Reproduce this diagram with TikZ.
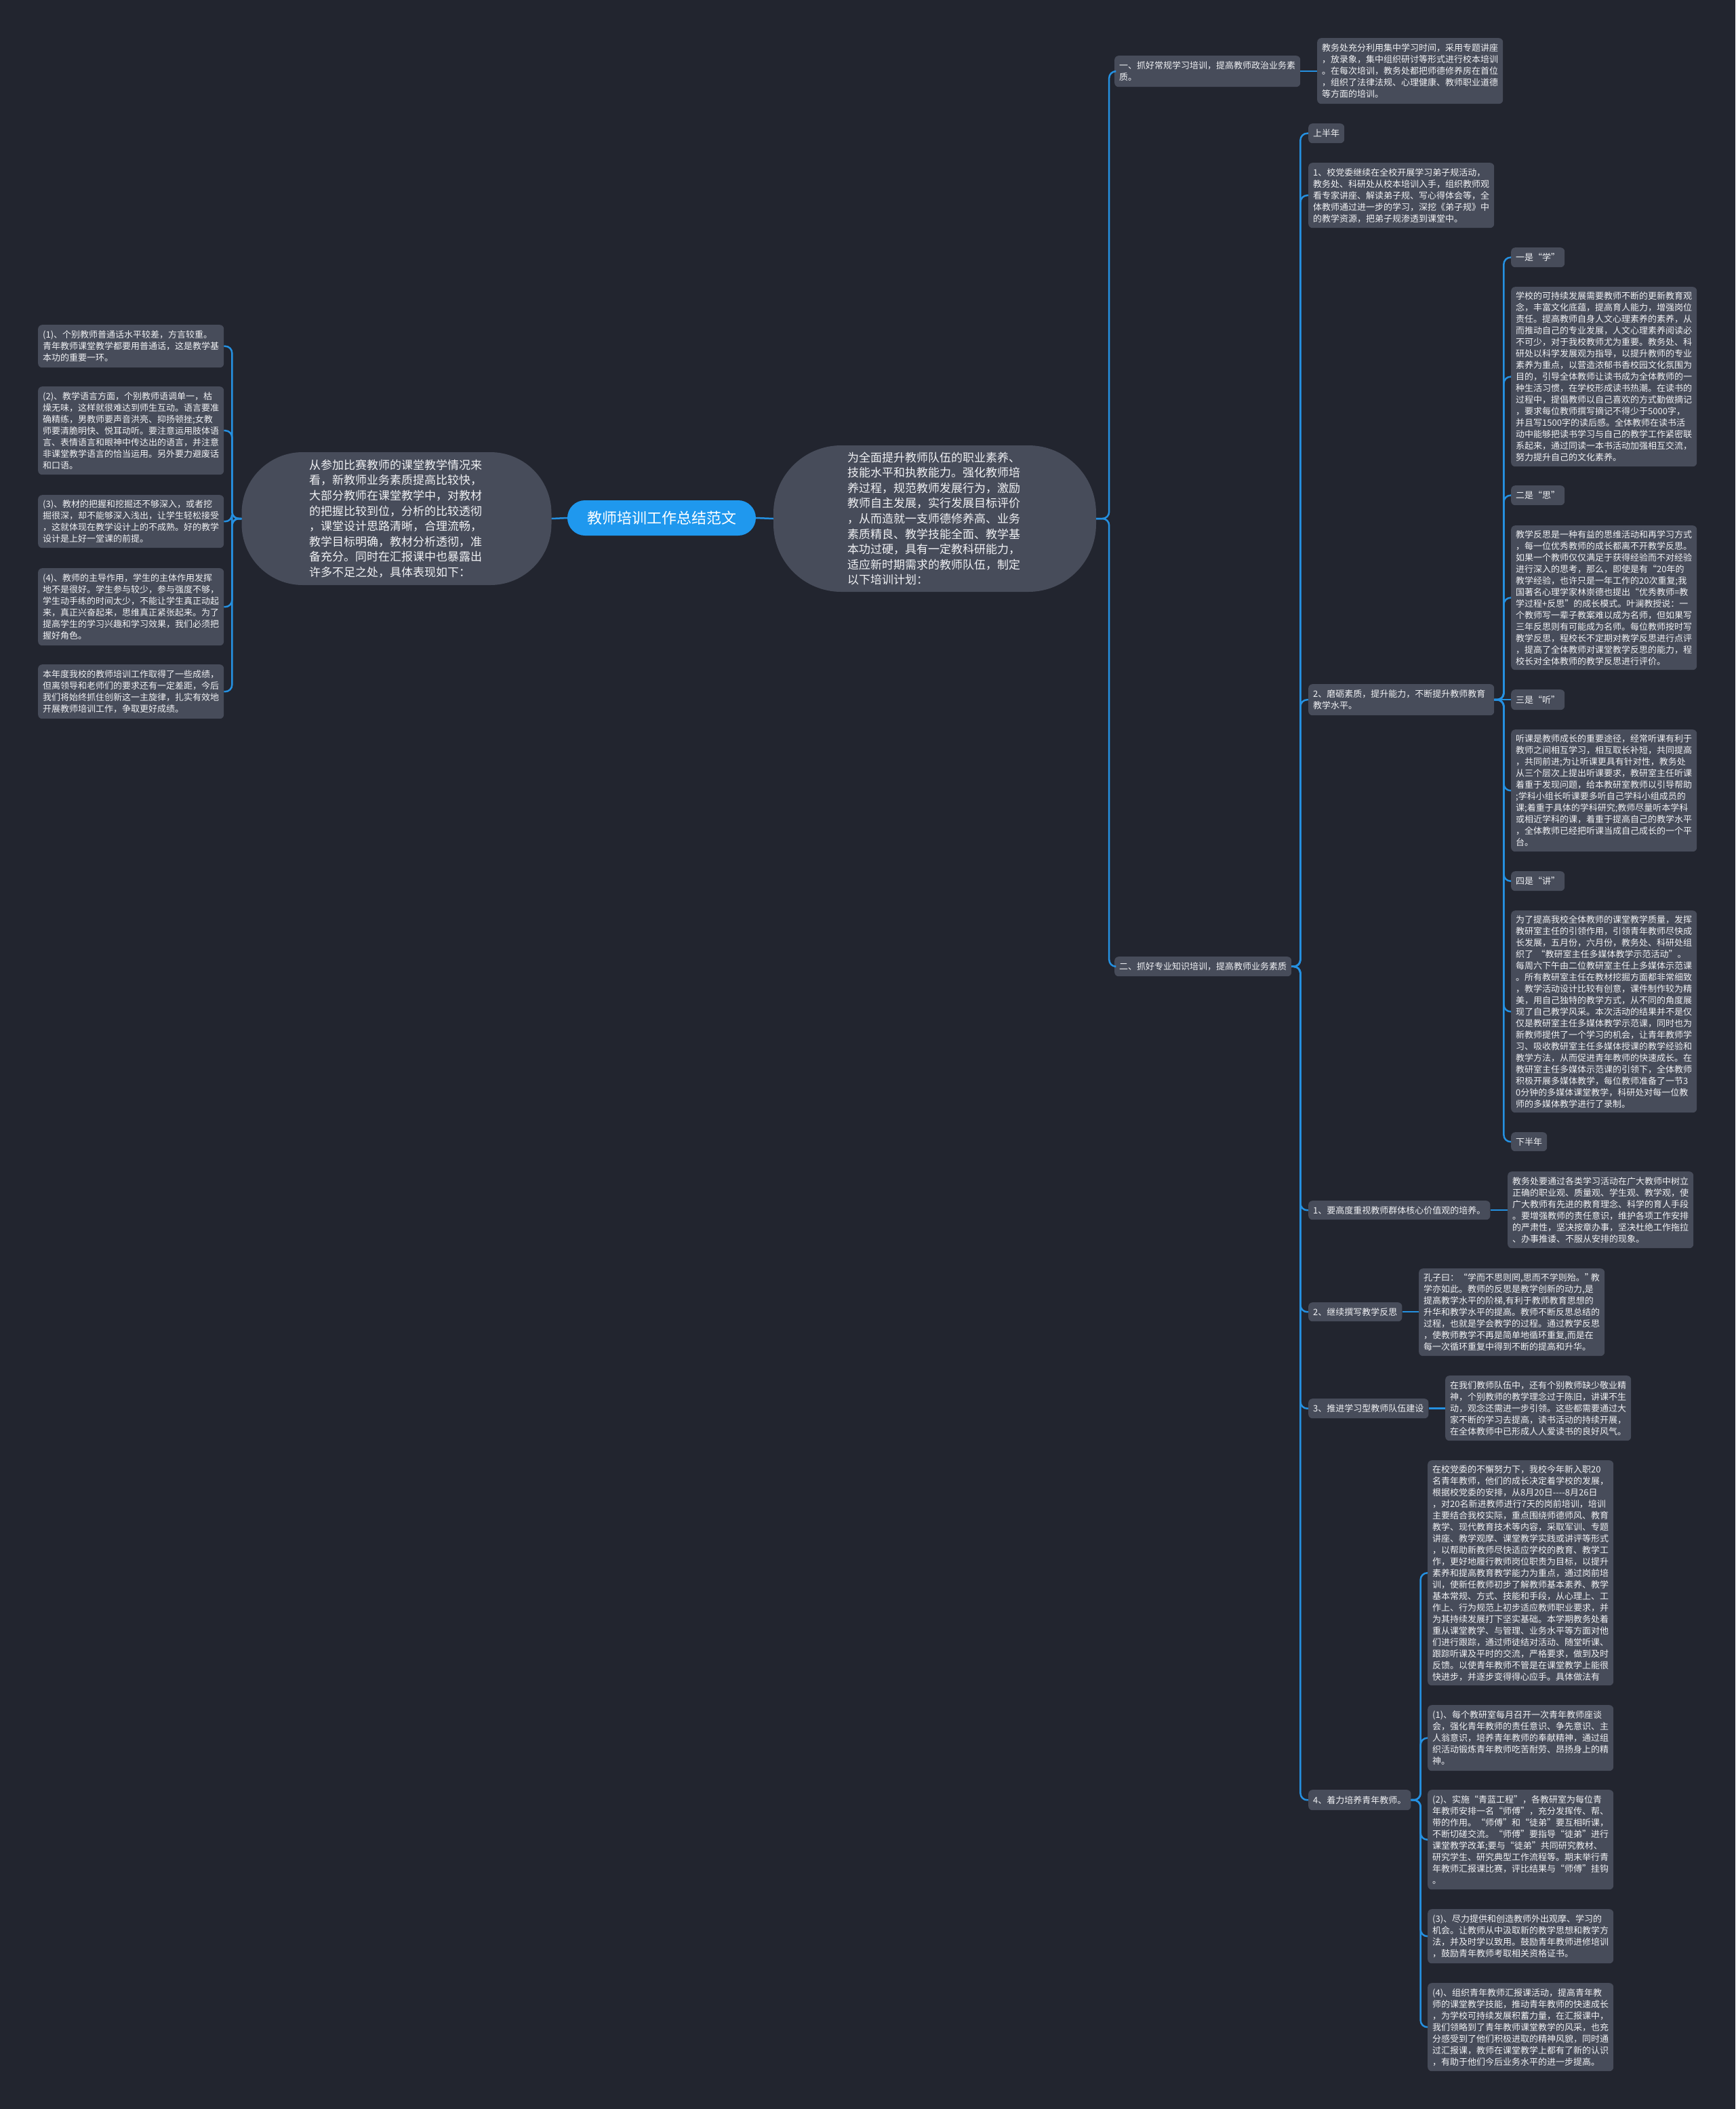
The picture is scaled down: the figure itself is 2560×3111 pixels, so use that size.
\documentclass[tikz,border=0pt]{standalone}
\usepackage{fontspec}
\setmainfont{Noto Sans CJK SC}
\definecolor{bgc}{HTML}{22252F}
\definecolor{nodebg}{HTML}{474C5A}
\definecolor{linec}{HTML}{2590E0}
\definecolor{rootc}{HTML}{1F98EE}
\definecolor{txt}{HTML}{F0F1F4}
\tikzset{
  leaf/.style={fill=nodebg, rounded corners=6pt, text=txt, font=\fontsize{13}{17}\selectfont, anchor=north west, inner xsep=7pt, inner ysep=3pt, text width=260pt, align=left},
  lbl/.style={fill=nodebg, rounded corners=6pt, text=txt, font=\fontsize{13}{17}\selectfont, anchor=north west, inner xsep=7pt, inner ysep=3pt, align=left},
  bigel/.style={fill=nodebg, text=txt, font=\fontsize{17}{22.6}\selectfont, text width=258pt, align=left},
  rootn/.style={fill=rootc, text=white, font=\fontsize{22}{26}\selectfont, rounded corners=26pt, minimum width=278pt, minimum height=52pt},
  conn/.style={draw=linec, line width=2.5pt, rounded corners=10pt},
}
\begin{document}
\begin{tikzpicture}[x=1pt,y=-1pt]
\useasboundingbox (0,0) rectangle (2560,3111);
\fill[bgc] (0,0) rectangle (2560,3111);

% centre
\node[rootn] (root) at (976,764) {教师培训工作总结范文};
\node[bigel, minimum width=457pt, minimum height=196pt, rounded corners=90pt] (le) at (585,765) {从参加比赛教师的课堂教学情况来\\看，新教师业务素质提高比较快，\\大部分教师在课堂教学中，对教材\\的把握比较到位，分析的比较透彻\\，课堂设计思路清晰，合理流畅，\\教学目标明确，教材分析透彻，准\\备充分。同时在汇报课中也暴露出\\许多不足之处，具体表现如下：};
\node[bigel, minimum width=476pt, minimum height=216pt, rounded corners=100pt] (re) at (1379,765) {为全面提升教师队伍的职业素养、\\技能水平和执教能力。强化教师培\\养过程，规范教师发展行为，激励\\教师自主发展，实行发展目标评价\\，从而造就一支师德修养高、业务\\素质精良、教学技能全面、教学基\\本功过硬，具有一定教科研能力，\\适应新时期需求的教师队伍，制定\\以下培训计划：};

% left leaves
\node[leaf, minimum height=63pt] (L1) at (56,479) {(1)、个别教师普通话水平较差，方言较重。\\青年教师课堂教学都要用普通话，这是教学基\\本功的重要一环。};
\node[leaf, minimum height=130pt] (L2) at (56,570) {(2)、教学语言方面，个别教师语调单一，枯\\燥无味，这样就很难达到师生互动。语言要准\\确精练，男教师要声音洪亮、抑扬顿挫;女教\\师要清脆明快、悦耳动听。要注意运用肢体语\\言、表情语言和眼神中传达出的语言，并注意\\非课堂教学语言的恰当运用。另外要力避废话\\和口语。};
\node[leaf, minimum height=78pt] (L3) at (56,730) {(3)、教材的把握和挖掘还不够深入，或者挖\\掘很深，却不能够深入浅出，让学生轻松接受\\，这就体现在教学设计上的不成熟。好的教学\\设计是上好一堂课的前提。};
\node[leaf, minimum height=114pt] (L4) at (56,838) {(4)、教师的主导作用，学生的主体作用发挥\\地不是很好。学生参与较少，参与强度不够，\\学生动手练的时间太少，不能让学生真正动起\\来，真正兴奋起来，思维真正紧张起来。为了\\提高学生的学习兴趣和学习效果，我们必须把\\握好角色。};
\node[leaf, minimum height=80pt] (L5) at (56,980) {本年度我校的教师培训工作取得了一些成绩，\\但离领导和老师们的要求还有一定差距，今后\\我们将始终抓住创新这一主旋律，扎实有效地\\开展教师培训工作，争取更好成绩。};

% right: branch one
\node[leaf, minimum height=46pt] (A1) at (1644,82) {一、抓好常规学习培训，提高教师政治业务素\\质。};
\node[leaf, minimum height=97pt] (A1t) at (1943,56) {教务处充分利用集中学习时间，采用专题讲座\\，放录象，集中组织研讨等形式进行校本培训\\。在每次培训，教务处都把师德修养房在首位\\，组织了法律法规、心理健康、教师职业道德\\等方面的培训。};

% branch two
\node[lbl, minimum height=29pt] (B) at (1644,1411) {二、抓好专业知识培训，提高教师业务素质};
\node[lbl, minimum height=29pt] (B0) at (1930,182) {上半年};
\node[leaf, minimum height=96pt] (B1) at (1930,240) {1、校党委继续在全校开展学习弟子规活动，\\教务处、科研处从校本培训入手，组织教师观\\看专家讲座、解读弟子规、写心得体会等，全\\体教师通过进一步的学习，深挖《弟子规》中\\的教学资源，把弟子规渗透到课堂中。};
\node[leaf, minimum height=46pt] (B2) at (1930,1009) {2、磨砺素质，提升能力，不断提升教师教育\\教学水平。};

\node[lbl, minimum height=29pt] (C1) at (2229,365) {一是“学”};
\node[leaf, minimum height=265pt] (C1t) at (2229,423) {学校的可持续发展需要教师不断的更新教育观\\念，丰富文化底蕴，提高育人能力，增强岗位\\责任。提高教师自身人文心理素养的素养，从\\而推动自己的专业发展，人文心理素养阅读必\\不可少，对于我校教师尤为重要。教务处、科\\研处以科学发展观为指导，以提升教师的专业\\素养为重点，以营造浓郁书香校园文化氛围为\\目的，引导全体教师让读书成为全体教师的一\\种生活习惯，在学校形成读书热潮。在读书的\\过程中，提倡教师以自己喜欢的方式勤做摘记\\，要求每位教师撰写摘记不得少于5000字，\\并且写1500字的读后感。全体教师在读书活\\动中能够把读书学习与自己的教学工作紧密联\\系起来，通过同读一本书活动加强相互交流，\\努力提升自己的文化素养。};
\node[lbl, minimum height=29pt] (C2) at (2229,716) {二是“思”};
\node[leaf, minimum height=213pt] (C2t) at (2229,775) {教学反思是一种有益的思维活动和再学习方式\\，每一位优秀教师的成长都离不开教学反思。\\如果一个教师仅仅满足于获得经验而不对经验\\进行深入的思考，那么，即使是有“20年的\\教学经验，也许只是一年工作的20次重复;我\\国著名心理学家林崇德也提出“优秀教师=教\\学过程+反思”的成长模式。叶澜教授说：一\\个教师写一辈子教案难以成为名师，但如果写\\三年反思则有可能成为名师。每位教师按时写\\教学反思，程校长不定期对教学反思进行点评\\，提高了全体教师对课堂教学反思的能力，程\\校长对全体教师的教学反思进行评价。};
\node[lbl, minimum height=30pt] (C3) at (2229,1017) {三是“听”};
\node[leaf, minimum height=180pt] (C3t) at (2229,1076) {听课是教师成长的重要途径，经常听课有利于\\教师之间相互学习，相互取长补短，共同提高\\，共同前进;为让听课更具有针对性，教务处\\从三个层次上提出听课要求，教研室主任听课\\着重于发现问题，给本教研室教师以引导帮助\\;学科小组长听课要多听自己学科小组成员的\\课;着重于具体的学科研究;教师尽量听本学科\\或相近学科的课，着重于提高自己的教学水平\\，全体教师已经把听课当成自己成长的一个平\\台。};
\node[lbl, minimum height=29pt] (C4) at (2229,1285) {四是“讲”};
\node[leaf, minimum height=298pt] (C4t) at (2229,1343) {为了提高我校全体教师的课堂教学质量，发挥\\教研室主任的引领作用，引领青年教师尽快成\\长发展，五月份，六月份，教务处、科研处组\\织了~“教研室主任多媒体教学示范活动”。\\每周六下午由二位教研室主任上多媒体示范课\\。所有教研室主任在教材挖掘方面都非常细致\\，教学活动设计比较有创意，课件制作较为精\\美，用自己独特的教学方式，从不同的角度展\\现了自己教学风采。本次活动的结果并不是仅\\仅是教研室主任多媒体教学示范课，同时也为\\新教师提供了一个学习的机会，让青年教师学\\习、吸收教研室主任多媒体授课的教学经验和\\教学方法，从而促进青年教师的快速成长。在\\教研室主任多媒体示范课的引领下，全体教师\\积极开展多媒体教学，每位教师准备了一节3\\0分钟的多媒体课堂教学，科研处对每一位教\\师的多媒体教学进行了录制。};
\node[lbl, minimum height=28pt] (C5) at (2229,1670) {下半年};

\node[lbl, minimum height=28pt] (B3) at (1930,1771) {1、要高度重视教师群体核心价值观的培养。};
\node[leaf, minimum height=113pt] (B3t) at (2224,1728) {教务处要通过各类学习活动在广大教师中树立\\正确的职业观、质量观、学生观、教学观，使\\广大教师有先进的教育理念、科学的育人手段\\。要增强教师的责任意识，维护各项工作安排\\的严肃性，坚决按章办事，坚决杜绝工作拖拉\\、办事推诿、不服从安排的现象。};
\node[lbl, minimum height=28pt] (B4) at (1930,1921) {2、继续撰写教学反思};
\node[leaf, minimum height=129pt] (B4t) at (2093,1871) {孔子曰：“学而不思则罔,思而不学则殆。”\kern-4pt\hbox{}教\\学亦如此。教师的反思是教学创新的动力,是\\提高教学水平的阶梯,有利于教师教育思想的\\升华和教学水平的提高。教师不断反思总结的\\过程，也就是学会教学的过程。通过教学反思\\，使教师教学不再是简单地循环重复,而是在\\每一次循环重复中得到不断的提高和升华。};
\node[lbl, minimum height=29pt] (B5) at (1930,2063) {3、推进学习型教师队伍建设};
\node[leaf, minimum height=96pt] (B5t) at (2132,2029) {在我们教师队伍中，还有个别教师缺少敬业精\\神，个别教师的教学理念过于陈旧，讲课不生\\动，观念还需进一步引领。这些都需要通过大\\家不断的学习去提高，读书活动的持续开展，\\在全体教师中已形成人人爱读书的良好风气。};
\node[lbl, minimum height=30pt] (B6) at (1930,2640) {4、着力培养青年教师。};

\node[leaf, minimum height=332pt] (D0) at (2106,2154) {在校党委的不懈努力下，我校今年新入职20\\名青年教师，他们的成长决定着学校的发展，\\根据校党委的安排，从8月20日-{}-{}-{}-8月26日\\，对20名新进教师进行7天的岗前培训，培训\\主要结合我校实际，重点围绕师德师风、教育\\教学、现代教育技术等内容，采取军训、专题\\讲座、教学观摩、课堂教学实践或讲评等形式\\，以帮助新教师尽快适应学校的教育、教学工\\作，更好地履行教师岗位职责为目标，以提升\\素养和提高教育教学能力为重点，通过岗前培\\训，使新任教师初步了解教师基本素养、教学\\基本常规、方式、技能和手段，从心理上、工\\作上、行为规范上初步适应教师职业要求，并\\为其持续发展打下坚实基础。本学期教务处着\\重从课堂教学、与管理、业务水平等方面对他\\们进行跟踪，通过师徒结对活动、随堂听课、\\跟踪听课及平时的交流，严格要求，做到及时\\反馈。以使青年教师不管是在课堂教学上能很\\快进步，并逐步变得得心应手。具体做法有};
\node[leaf, minimum height=97pt] (D1) at (2106,2515) {(1)、每个教研室每月召开一次青年教师座谈\\会，强化青年教师的责任意识、争先意识、主\\人翁意识，培养青年教师的奉献精神，通过组\\织活动锻炼青年教师吃苦耐劳、昂扬身上的精\\神。};
\node[leaf, minimum height=147pt] (D2) at (2106,2640) {(2)、实施“青蓝工程”，各教研室为每位青\\年教师安排一名“师傅”，充分发挥传、帮、\\带的作用。“师傅”和“徒弟”要互相听课，\\不断切磋交流。“师傅”要指导“徒弟”进行\\课堂教学改革;要与“徒弟”共同研究教材、\\研究学生、研究典型工作流程等。期末举行青\\年教师汇报课比赛，评比结果与“师傅”挂钩\\。};
\node[leaf, minimum height=80pt] (D3) at (2106,2816) {(3)、尽力提供和创造教师外出观摩、学习的\\机会。让教师从中汲取新的教学思想和教学方\\法，并及时学以致用。鼓励青年教师进修培训\\，鼓励青年教师考取相关资格证书。};
\node[leaf, minimum height=130pt] (D4) at (2106,2925) {(4)、组织青年教师汇报课活动，提高青年教\\师的课堂教学技能，推动青年教师的快速成长\\，为学校可持续发展积蓄力量，在汇报课中，\\我们领略到了青年教师课堂教学的风采，也充\\分感受到了他们积极进取的精神风貌，同时通\\过汇报课，教师在课堂教学上都有了新的认识\\，有助于他们今后业务水平的进一步提高。};

% connectors
\draw[conn] (root.west) -- (le.east);
\draw[conn] (root.east) -- (re.west);
\foreach \n in {L1,L2,L3,L4,L5} \draw[conn] (le.west) -- ++(-14,0) |- (\n.east);
\foreach \n in {A1,B} \draw[conn] (re.east) -- ++(19,0) |- (\n.west);
\draw[conn] (A1.east) -- (A1.east -| A1t.west);
\foreach \n in {B0,B1,B2,B3,B4,B5,B6} \draw[conn] (B.east) -- ++(13,0) |- (\n.west);
\foreach \n in {C1,C1t,C2,C2t,C3t,C4,C4t,C5} \draw[conn] (B2.east) -- ++(14,0) |- (\n.west);
\draw[conn] (B2.east) -- (B2.east -| C3.west);
\draw[conn] (B3.east) -- (B3.east -| B3t.west);
\draw[conn] (B4.east) -- (B4.east -| B4t.west);
\draw[conn] (B5.east) -- (B5.east -| B5t.west);
\foreach \n in {D0,D1,D2,D3,D4} \draw[conn] (B6.east) -- ++(14,0) |- (\n.west);
\end{tikzpicture}
\end{document}
